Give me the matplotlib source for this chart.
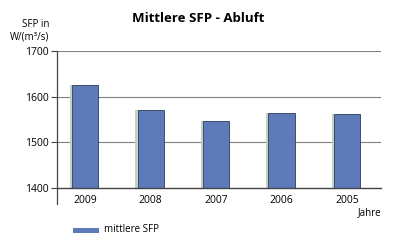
import matplotlib
matplotlib.use("Agg")
import matplotlib.pyplot as plt
from matplotlib.patches import Rectangle

years = ["2009", "2008", "2007", "2006", "2005"]
values = [1625, 1570, 1547, 1564, 1561]
yticks = [1400, 1500, 1600, 1700]

plt.rcParams['font.family'] = ['Open Sans', 'DejaVu Sans']

fig = plt.figure(figsize=(3.96, 2.48), dpi=100)
W, H = 396, 248
ax = fig.add_axes([57/W, 1-188/H, (381-57)/W, (188-51)/H])
ax.set_xlim(-0.43, 4.52)
ax.set_ylim(1400, 1700)

x = list(range(len(years)))
# shadow
ax.bar([i - 0.035 for i in x], [v - 1400 for v in values], bottom=1400, width=0.4,
       color="#c4d3c0", zorder=2)
ax.bar(x, [v - 1400 for v in values], bottom=1400, width=0.4,
       color="#5f7ab8", edgecolor="#2f3d5c", linewidth=0.6, zorder=3)

for t in yticks[1:]:
    ax.axhline(t, color="#808080", linewidth=0.8, zorder=1)
ax.axhline(1400, color="#444444", linewidth=1.0, zorder=4, clip_on=False)

for s in ["top", "right", "bottom", "left"]:
    ax.spines[s].set_visible(False)
ax.plot([0, 0], [-0.12, 1.0], transform=ax.transAxes, color="#444444",
        linewidth=0.9, clip_on=False, zorder=5)

ax.set_yticks(yticks)
ax.set_yticklabels([str(t) for t in yticks], fontsize=7.5)
ax.tick_params(axis="y", length=4, width=0.8, color="#444444", pad=2)
ax.set_xticks(x)
ax.set_xticklabels(years, fontsize=7.5)
ax.tick_params(axis="x", length=0, pad=5)

fig.text(198/W, 1-18/H, "Mittlere SFP - Abluft", ha="center", va="center",
         fontsize=9.5, fontweight="bold")
fig.text(49/W, 1-31/H, "SFP in\nW/(m³/s)", ha="right", va="center",
         fontsize=7, linespacing=1.2)
fig.text(381/W, 1-213/H, "Jahre", ha="right", va="center", fontsize=7)

fig.patches.append(Rectangle((73/W, 1-233/H), 26/W, 5/H, transform=fig.transFigure,
                             facecolor="#5f7ab8", edgecolor="none"))
fig.text(104/W, 1-230/H, "mittlere SFP", ha="left", va="center", fontsize=7)

fig.savefig("out.png", dpi=100)
